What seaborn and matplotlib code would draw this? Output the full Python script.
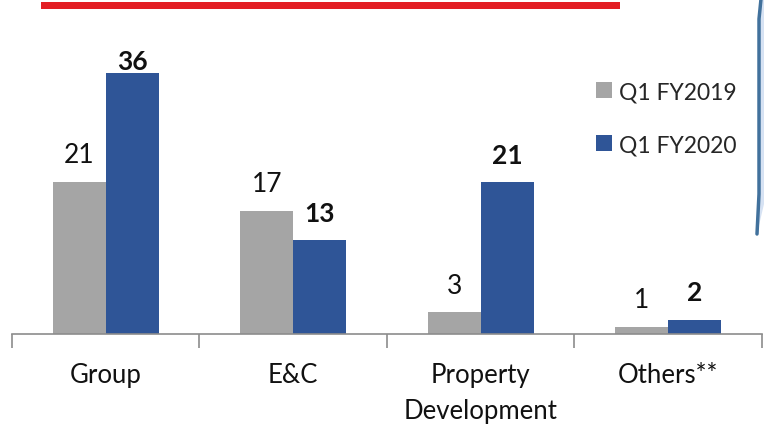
import matplotlib
matplotlib.use("Agg")
import matplotlib.pyplot as plt
from matplotlib.patches import Polygon, Rectangle, Patch
from matplotlib.lines import Line2D
import seaborn as sns
import pandas as pd

# Segment profit figures
segments = ["Group", "E&C", "Property\nDevelopment", "Others**"]
periods = ["Q1 FY2019", "Q1 FY2020"]
q1_fy2019 = [21, 17, 3, 1]
q1_fy2020 = [36, 13, 21, 2]

colors = {"Q1 FY2019": "#A5A5A5", "Q1 FY2020": "#2F5597"}

df = pd.DataFrame({
    "segment": segments * 2,
    "period": [periods[0]] * 4 + [periods[1]] * 4,
    "value": q1_fy2019 + q1_fy2020,
})

sns.set_theme(style="white")
plt.rcParams["font.family"] = ["Lato", "DejaVu Sans"]

W, H = 764, 427
fig = plt.figure(figsize=(W / 100, H / 100), dpi=100)
ax = fig.add_axes([12 / W, (H - 335) / H, 750 / W, 335 / H])

sns.barplot(data=df, x="segment", y="value", hue="period", order=segments,
            hue_order=periods, palette=colors, width=0.565, gap=0,
            saturation=1, linewidth=0, legend=False, ax=ax)

ax.set_xlim(-0.5, 3.5)
ymax = 335 / 7.25
ax.set_ylim(0, ymax)
ax.set_xlabel("")
ax.set_ylabel("")
ax.set_yticks([])
for side in ["top", "right", "left"]:
    ax.spines[side].set_visible(False)
ax.spines["bottom"].set_color("#8C8C8C")
ax.spines["bottom"].set_linewidth(1.2)

ax.set_xticks(range(len(segments)))
ax.set_xticklabels(segments, fontsize=18.5, color="#111111", linespacing=1.55)
ax.tick_params(axis="x", which="major", bottom=False, length=0, pad=20)
ax.set_xticks([i - 0.5 for i in range(len(segments) + 1)], minor=True)
ax.tick_params(axis="x", which="minor", bottom=True, length=10, width=1.2,
               color="#8C8C8C", direction="out")

# Value labels above each bar
offset = 3.75
cap = (335 - 62) / 7.25
bw = 0.565 / 2
for i, (a, b) in enumerate(zip(q1_fy2019, q1_fy2020)):
    ax.text(i - bw / 2, min(a + offset, cap), f"{a}", ha="center",
            va="center", fontsize=19, color="#111111")
    ax.text(i + bw / 2, min(b + offset, cap), f"{b}", ha="center",
            va="center", fontsize=19, fontweight="bold", color="#111111")

# Legend
handles = [Patch(facecolor=colors[p], edgecolor="none", label=p) for p in periods]
fig.legend(handles=handles, loc="upper left",
           bbox_to_anchor=(587 / W, 1 - 73 / H), frameon=False,
           fontsize=16.5, handlelength=0.7, handleheight=0.7,
           handletextpad=0.3, labelspacing=1.4, borderaxespad=0)

# Red title rule at the top
fig.patches.append(Rectangle((41 / W, 1 - 10 / H), (620 - 41) / W, 7 / H,
                             transform=fig.transFigure, facecolor="#E31E24",
                             edgecolor="none"))

# Edge of the side panel on the right
pts = [(761, 0), (759, 20), (759, 195), (757, 235)]
fill_pts = pts + [(764, 205), (764, 0)]
fig.patches.append(Polygon([(x / W, 1 - y / H) for x, y in fill_pts],
                           closed=True, transform=fig.transFigure,
                           facecolor="#D6E2F3", edgecolor="none"))
fig.lines.append(Line2D([x / W for x, y in pts], [1 - y / H for x, y in pts],
                        transform=fig.transFigure, color="#41719C", lw=2.5))

fig.savefig("out.png", dpi=100)
